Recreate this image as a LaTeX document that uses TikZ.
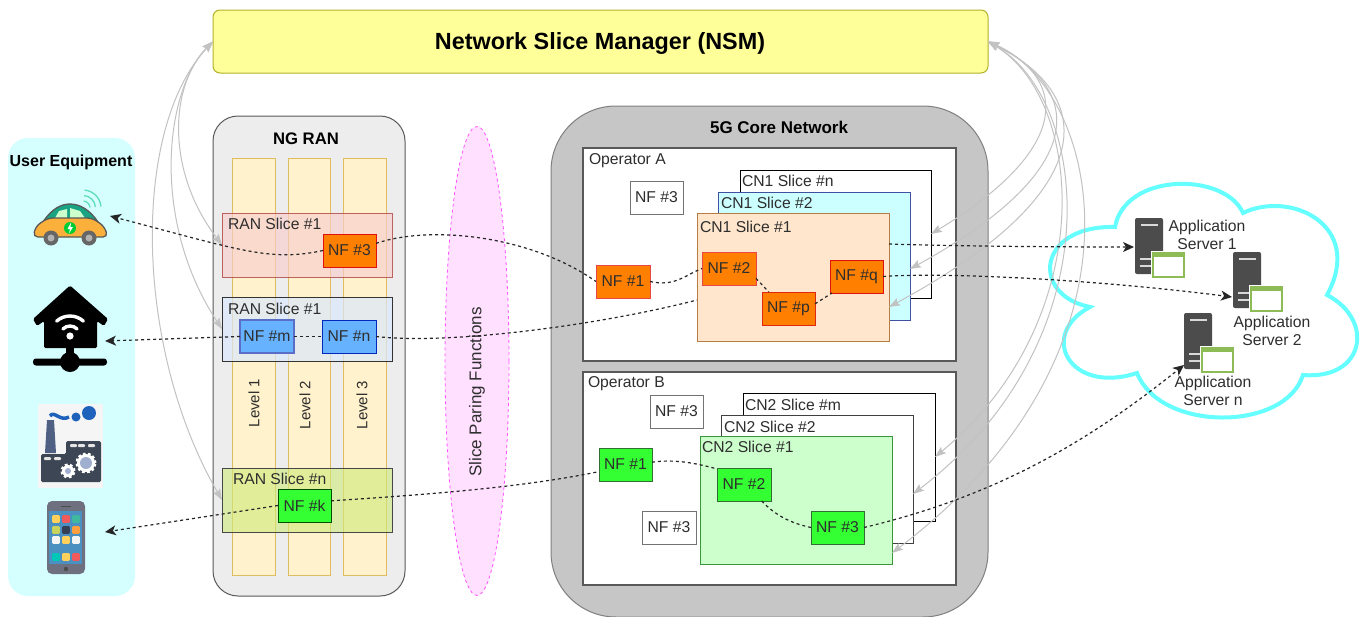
\documentclass[tikz,border=0pt]{standalone}
\usepackage{fontspec}
\setmainfont{Liberation Sans}
\usetikzlibrary{arrows.meta,shapes.geometric,calc}
\definecolor{txt}{HTML}{2E2E2E}
\definecolor{nforange}{HTML}{FF8000}
\definecolor{nfgreen}{HTML}{33FF33}
\definecolor{nfblue}{HTML}{66B2FF}
\definecolor{greyarrow}{HTML}{C2C2C2}
\definecolor{F1}{HTML}{E0BC60}
\definecolor{F2}{HTML}{FFF2CC}
\definecolor{nsmd}{HTML}{B2B228}
\definecolor{nsmf}{HTML}{FFFF99}
\definecolor{uef}{HTML}{D5FFFF}
\definecolor{carcab}{HTML}{18A482}
\definecolor{carbody}{HTML}{FBB03B}
\definecolor{wifi}{HTML}{5EDDB8}
\definecolor{chimney}{HTML}{506082}
\definecolor{build}{HTML}{3D4654}
\definecolor{smoke}{HTML}{1E62BB}
\definecolor{gearc}{HTML}{A0AECF}
\definecolor{phonebody}{HTML}{6E7080}
\definecolor{phonescr}{HTML}{4A90C0}
\definecolor{srvgreen}{HTML}{8DBB55}
\definecolor{r1d}{HTML}{B85450}
\definecolor{r1f}{HTML}{F8CECC}
\definecolor{r2f}{HTML}{DAE8FC}
\definecolor{r3f}{HTML}{CDEB78}
\definecolor{redd}{HTML}{E01010}
\definecolor{pinkd}{HTML}{EB4646}
\definecolor{redod}{HTML}{E02810}
\definecolor{blued}{HTML}{5A6EC8}
\definecolor{blueb}{HTML}{0028BE}
\definecolor{dgreen}{HTML}{005000}
\definecolor{mgreen}{HTML}{326E32}
\definecolor{pinkl}{HTML}{FF50FF}
\definecolor{pinkf}{HTML}{FFE0FF}
\definecolor{coref}{HTML}{C6C6C6}
\definecolor{c12d}{HTML}{3F51A0}
\definecolor{c12f}{HTML}{CCFFFF}
\definecolor{c11d}{HTML}{B87D42}
\definecolor{c11f}{HTML}{FFE6CC}
\definecolor{c21d}{HTML}{3C963C}
\definecolor{c21f}{HTML}{CCFFCC}
\definecolor{cloudc}{HTML}{66FFFF}
\tikzset{
  bxs/.style={rectangle,inner sep=0pt,outer sep=0pt,text=txt,font=\fontsize{15.7}{18}\selectfont},
  lbl/.style={inner sep=0pt,outer sep=0pt,text=txt,font=\fontsize{15.7}{18}\selectfont,anchor=west},
  ttl/.style={inner sep=0pt,outer sep=0pt,text=black,font=\bfseries\fontsize{17}{20}\selectfont},
  level/.style={draw=F1,fill=F2,line width=0.9pt},
  orangenf/.style={draw=#1,fill=nforange,line width=1pt},
  greennf/.style={draw=#1,fill=nfgreen,line width=1pt},
  whitenf/.style={draw=black!55,fill=white,line width=1pt},
  oper/.style={draw=black!65,fill=white,line width=1.2pt},
  conn/.style={draw=black!85,line width=1.2pt,dash pattern=on 3pt off 3pt},
  connarrow/.style={conn,-{Stealth[length=11pt,width=10pt,inset=3pt]}},
  mgmt/.style={draw=greyarrow,line width=1pt,{Stealth[length=11pt,width=8pt,inset=2pt]}-{Stealth[length=11pt,width=8pt,inset=2pt]}},
}
% [style]{name}{x1}{y1}{x2}{y2}{text}
\newcommand\nbx[7][]{\node[bxs,#1,minimum width={((#5)-(#3))*1pt},minimum height={((#6)-(#4))*1pt}] (#2) at ({((#3)+(#5))/2},{((#4)+(#6))/2}) {#7};}
\newcommand\srv[3]{%
  \nbx[fill=black!70,rounded corners=2pt]{#1}{#2}{#3}{#2+28}{#3+56}{}
  \draw[white!85!black,line width=1.6pt] (#2+6,#3+7) -- (#2+23,#3+7);
  \draw[white!85!black,line width=1.6pt] (#2+5,#3+41) -- (#2+16,#3+41);
  \draw[white!85!black,line width=1.6pt] (#2+5,#3+48) -- (#2+16,#3+48);
  \nbx[fill=white,draw=white,line width=2.5pt]{#1back}{#2+17}{#3+34}{#2+50}{#3+60}{}
  \nbx[fill=white,draw=srvgreen,line width=1.2pt]{#1win}{#2+18}{#3+35}{#2+49}{#3+59}{}
  \fill[srvgreen] (#2+18,#3+35) rectangle (#2+49,#3+39);
}
\newcommand\gear[3]{%
  \draw[white,line width=3pt,dash pattern=on 2.6pt off 2.2pt] (#1,#2) circle[radius={(#3)*1pt}];
  \fill[white] (#1,#2) circle[radius={(#3)*1pt}];
  \fill[gearc] (#1,#2) circle[radius={(#3-3)*1pt}];
}
\begin{document}
\begin{tikzpicture}[x=1pt,y=-1pt]
\useasboundingbox (0,0) rectangle (1364,616);
\fill[white] (0,0) rectangle (1364,616);

% Manager
\nbx[draw=nsmd,fill=nsmf,rounded corners=7pt,line width=1pt]{nsm}{213}{10}{988}{73}{}
\node[ttl,font=\bfseries\fontsize{23.4}{26}\selectfont] (nsmt) at (600,43) {Network Slice Manager (NSM)};

% UE panel
\nbx[fill=uef,rounded corners=20pt]{uep}{8}{138}{135}{596}{}
\node[ttl,font=\bfseries\fontsize{16}{18}\selectfont] (uet) at (71,162) {User Equipment};

% Car
\draw[draw=black!65,fill=carcab,line width=1.3pt] (43,222) .. controls (52,208) and (62,204) .. (70,204) .. controls (80,204) and (90,210) .. (98,222) -- cycle;
\fill[white!80!green] (55,218) -- (59,211) -- (67,209) -- (67,218) -- cycle;
\fill[white!80!green] (70,218) -- (70,208) -- (80,211) -- (85,218) -- cycle;
\draw[draw=black!65,fill=carbody,line width=1.3pt,rounded corners=5pt] (33,237) -- (36,226) -- (48,218) -- (92,218) -- (104,226) -- (108,237) -- cycle;
\fill[black!60] (51,238) circle[radius=7.5pt];
\fill[black!30] (51,238) circle[radius=3.5pt];
\fill[black!60] (89,238) circle[radius=7.5pt];
\fill[black!30] (89,238) circle[radius=3.5pt];
\fill[green!60!teal] (70,228) circle[radius=6pt];
\fill[white] (71,222.5) -- (67.5,229) -- (70,229) -- (69,233.5) -- (73,227) -- (70.5,227) -- cycle;
\foreach \rr in {7,12.5,18} {\draw[wifi,line width=1.3pt] (83,208) ++(5:\rr pt) arc[start angle=5,end angle=85,radius=\rr pt];}

% House
\fill[black,rounded corners=1.5pt] (70,285.5) -- (108,319) -- (104,326) -- (97,321) -- (97,348) -- (44,348) -- (44,321) -- (37,326) -- (33,319) -- cycle;
\fill[black] (66,345) rectangle (74,358);
\fill[black,rounded corners=3pt] (33,358.5) rectangle (107,365.5);
\fill[black] (70,362) circle[radius=10pt];
\fill[white] (70,336) circle[radius=3.6pt];
\draw[white,line width=3.4pt,line cap=round] (70,336) ++(45:10pt) arc[start angle=45,end angle=135,radius=10pt];
\draw[white,line width=3.4pt,line cap=round] (70,336) ++(48:20pt) arc[start angle=48,end angle=132,radius=20pt];

% Factory
\fill[black!4] (38,404) rectangle (103,488);
\fill[chimney] (47,420) -- (54,420) -- (56,453) -- (45,453) -- cycle;
\fill[build,rounded corners=1.5pt] (41,482) -- (41,454) -- (66,454) -- (66,441) -- (101,441) -- (101,482) -- cycle;
\foreach \xx/\yy in {44/457,54/457,70/444,78/444,88/444} {\fill[white!90!black,rounded corners=1pt] (\xx,\yy) rectangle +(7,3);}
\draw[smoke,line width=3.5pt] (50,416) .. controls (54,410) and (60,422) .. (69,417);
\fill[smoke] (76,417) circle[radius=4.5pt];
\fill[smoke] (89,413) circle[radius=7pt];
\gear{86}{463}{9}
\gear{68}{471}{6}

% Phone
\nbx[fill=phonebody,rounded corners=5pt]{phone}{47}{501}{85}{574}{}
\fill[phonescr] (49,511) rectangle (82,564);
\foreach \xx/\yy/\cc in {56/519/FFD15C,66/519/F05A5A,76/519/40B8A0,56/530/C9D35B,66/530/334055,76/530/FF9F40,56/540/F5F5F5,66/540/FFD15C,76/540/F5F5F5,56/557/00C8B8,66/557/FFD15C,76/557/F05A5A}{\definecolor{tc}{HTML}{\cc}\fill[tc,rounded corners=1pt] (\xx-3.8,\yy-3.8) rectangle (\xx+3.8,\yy+3.8);}
\fill[black!70] (66,569) circle[radius=2.2pt];
\draw[black!70,line width=1pt] (61,506) -- (71,506);

% NG RAN
\nbx[draw=black!65,fill=black!7,rounded corners=25pt,line width=1pt]{ran}{213}{116}{405}{596}{}
\node[ttl,font=\bfseries\fontsize{16.7}{19}\selectfont] (rant) at (306,139) {NG RAN};
\nbx[level]{l1}{232}{158}{275}{575}{}
\nbx[level]{l2}{288}{158}{330}{575}{}
\nbx[level]{l3}{343}{158}{386}{575}{}
\node[lbl,anchor=center,rotate=90,font=\fontsize{15}{18}\selectfont] (l1t) at (254,403) {Level 1};
\node[lbl,anchor=center,rotate=90,font=\fontsize{15}{18}\selectfont] (l2t) at (305,405) {Level 2};
\node[lbl,anchor=center,rotate=90,font=\fontsize{15}{18}\selectfont] (l3t) at (362,405) {Level 3};

\nbx[draw=r1d,draw opacity=.9,fill=r1f,fill opacity=.65,line width=1pt]{rs1}{222}{213}{392}{277}{}
\node[lbl] (rs1t) at (228,224) {RAN Slice \#1};
\nbx[draw=black!80,fill=r2f,fill opacity=.7,line width=1pt]{rs2}{222}{297}{392}{361}{}
\node[lbl] (rs2t) at (228,309) {RAN Slice \#1};
\nbx[draw=black!72,fill=r3f,fill opacity=.6,line width=1pt]{rsn}{222}{468}{392}{532}{}
\node[lbl] (rsnt) at (233,479) {RAN Slice \#n};

\nbx[orangenf=redd]{rnf3}{323}{234}{376}{267}{NF \#3}
\nbx[fill=nfblue,draw=blued,line width=1.4pt]{rnfm}{240}{320}{294}{353}{NF \#m}
\nbx[fill=nfblue,draw=blueb,line width=1pt]{rnfn}{322}{320}{376}{353}{NF \#n}
\nbx[greennf=dgreen]{rnfk}{278}{489}{331}{522}{NF \#k}

% Pairing
\node[ellipse,draw=pinkl,fill=pinkf,dashed,line width=0.8pt,inner sep=0pt,outer sep=0pt,minimum width=64pt,minimum height=469pt] (pair) at (477,361) {};
\node[lbl,anchor=center,rotate=90,font=\fontsize{17}{20}\selectfont] (pairt) at (477,392) {Slice Paring Functions};

% 5G Core
\nbx[draw=black!50,fill=coref,rounded corners=65pt,line width=1pt]{core}{551}{106}{988}{617}{}
\node[ttl] (coret) at (779,127) {5G Core Network};

\nbx[oper]{opa}{583}{148}{956}{361}{}
\node[lbl] (opat) at (589,161) {Operator A};
\nbx[whitenf]{anf3}{630}{181}{683}{214}{NF \#3}
\nbx[draw=black,fill=white,line width=1pt]{c1n}{740}{170}{931}{298}{}
\node[lbl] (c1nt) at (742,181) {CN1 Slice \#n};
\nbx[draw=c12d,fill=c12f,line width=1pt]{c12}{718}{192}{910}{320}{}
\node[lbl] (c12t) at (721,203) {CN1 Slice \#2};
\nbx[draw=c11d,fill=c11f,line width=1pt]{c11}{697}{213}{889}{341}{}
\node[lbl] (c11t) at (700,227) {CN1 Slice \#1};
\nbx[orangenf=pinkd]{anf1}{596}{265}{650}{298}{NF \#1}
\nbx[orangenf=pinkd]{anf2}{702}{252}{756}{285}{NF \#2}
\nbx[orangenf=redod]{anfp}{762}{292}{815}{325}{NF \#p}
\nbx[orangenf=redd]{anfq}{830}{260}{883}{293}{NF \#q}

\nbx[oper]{opb}{583}{372}{956}{585}{}
\node[lbl] (opbt) at (588,384) {Operator B};
\nbx[whitenf]{bnf3a}{650}{395}{703}{428}{NF \#3}
\nbx[draw=black,fill=white,line width=1pt]{c2m}{743}{393}{935}{521}{}
\node[lbl] (c2mt) at (745,405) {CN2 Slice \#m};
\nbx[draw=black!75,fill=white,line width=1pt]{c22}{721}{415}{913}{543}{}
\node[lbl] (c22t) at (724,427) {CN2 Slice \#2};
\nbx[draw=c21d,fill=c21f,line width=1pt]{c21}{700}{436}{892}{564}{}
\node[lbl] (c21t) at (702,447) {CN2 Slice \#1};
\nbx[greennf=mgreen]{bnf1}{599}{448}{652}{481}{NF \#1}
\nbx[greennf=mgreen]{bnf2}{717}{468}{771}{501}{NF \#2}
\nbx[greennf=mgreen]{bnf3}{811}{511}{864}{544}{NF \#3}
\nbx[whitenf]{bnf3b}{642}{511}{696}{544}{NF \#3}

% Cloud
\draw[draw=cloudc,line width=4pt,line join=miter]
  (1115,227) .. controls (1125,172) and (1225,172) .. (1243,213)
  .. controls (1290,190) and (1365,225) .. (1327,295)
  .. controls (1375,320) and (1365,380) .. (1303,375)
  .. controls (1285,432) and (1160,432) .. (1137,373)
  .. controls (1070,395) and (1037,335) .. (1090,307)
  .. controls (1030,295) and (1037,225) .. (1115,227) -- cycle;
\srv{s1}{1135}{218}
\srv{s2}{1233}{252}
\srv{sn}{1184}{313}
\node[lbl,anchor=center,align=center,font=\fontsize{15.7}{18.5}\selectfont] (s1t) at (1207,235) {Application\\Server 1};
\node[lbl,anchor=center,align=center,font=\fontsize{15.7}{18.5}\selectfont] (s2t) at (1272,331) {Application\\Server 2};
\node[lbl,anchor=center,align=center,font=\fontsize{15.7}{18.5}\selectfont] (snt) at (1213,391) {Application\\Server n};

% Management arrows
\coordinate (tc12) at (910,269);
\coordinate (tc11) at (889,307);
\coordinate (tc2m) at (935,457);
\coordinate (tc22) at (913,494);
\coordinate (tc21) at (892,553);
\draw[mgmt] (nsm.west) .. controls (170,85) and (165,170) .. (rs1.west);
\draw[mgmt] (nsm.west) .. controls (165,90) and (150,220) .. (rs2.west);
\draw[mgmt] (nsm.west) .. controls (130,130) and (135,350) .. (rsn.west);
\draw[mgmt] (nsm.east) .. controls (1070,80) and (1070,150) .. (c1n.east);
\draw[mgmt] (nsm.east) .. controls (1085,90) and (1090,170) .. (tc12);
\draw[mgmt] (nsm.east) .. controls (1095,95) and (1105,190) .. (tc11);
\draw[mgmt] (nsm.east) .. controls (1085,100) and (1100,320) .. (tc2m);
\draw[mgmt] (nsm.east) .. controls (1090,100) and (1115,340) .. (tc22);
\draw[mgmt] (nsm.east) .. controls (1100,90) and (1160,350) .. (tc21);

% Data paths
\coordinate (ecar) at (110,216);
\coordinate (ehouse) at (105,341);
\coordinate (ephone) at (105,532);
\coordinate (es1) at (1134,247);
\coordinate (es2) at (1232,297);
\coordinate (esn) at (1184,365);
\coordinate (ec11w) at (697,300);
\coordinate (ec11e) at (889,244);
\draw[connarrow] (rnf3.west) .. controls (270,262) and (240,250) .. (ecar);
\draw[conn] (rnf3.15) .. controls (430,225) and (530,235) .. (anf1.west);
\draw[connarrow] (rnfm.west) -- (ehouse);
\draw[conn] (rnfm.east) -- (rnfn.west);
\draw[conn] (rnfn.east) .. controls (450,345) and (600,325) .. (ec11w);
\draw[connarrow] (rnfk.west) -- (ephone);
\draw[conn] (rnfk.10) .. controls (420,495) and (520,488) .. (bnf1.-165);
\draw[conn] (anf1.east) .. controls (675,287) and (685,275) .. (anf2.west);
\draw[conn] (anf2.-20) -- (anfp.140);
\draw[conn] (anfp.10) -- (anfq.-146);
\draw[connarrow] (ec11e) .. controls (950,246) and (1050,247) .. (es1);
\draw[connarrow] (anfq.east) .. controls (950,272) and (1100,280) .. (es2);
\draw[conn] (bnf1.5) .. controls (675,459) and (695,463) .. (bnf2.150);
\draw[conn] (bnf2.-43) .. controls (775,515) and (790,523) .. (bnf3.west);
\draw[connarrow] (bnf3.east) .. controls (1000,495) and (1090,440) .. (esn);
\end{tikzpicture}
\end{document}
